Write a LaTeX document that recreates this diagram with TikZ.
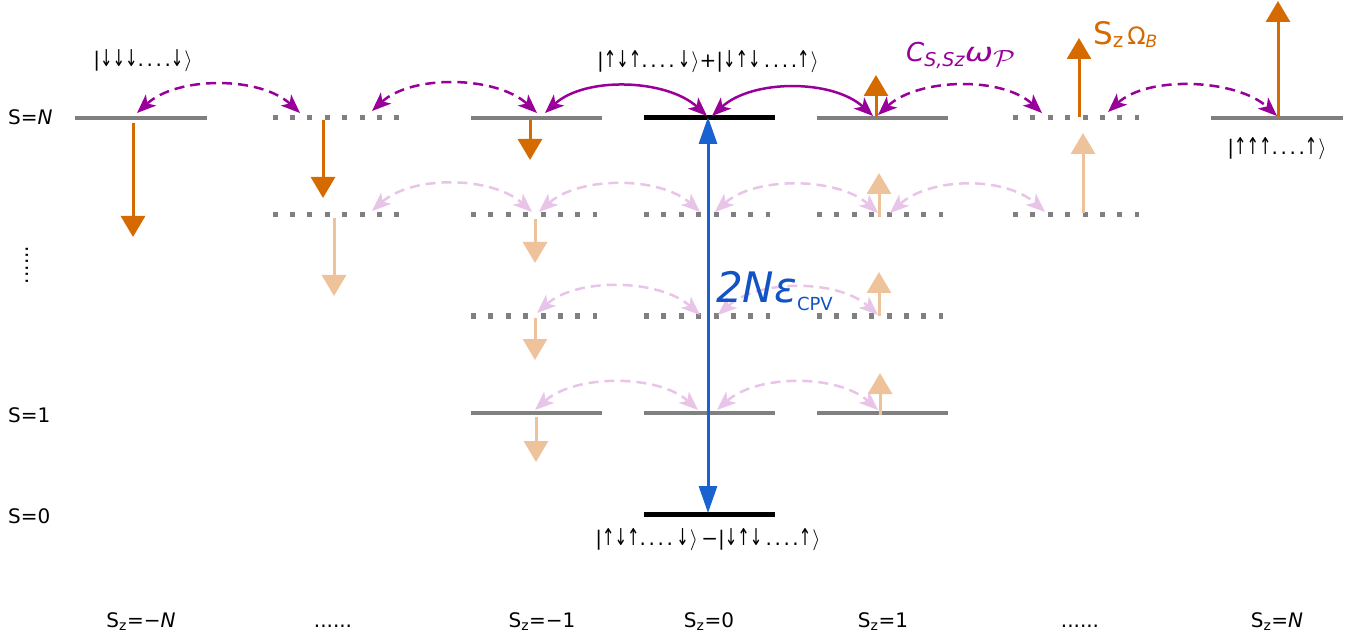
\documentclass[tikz,border=0pt]{standalone}
\usepackage{fontspec}
\usepackage{graphicx}
\setmainfont{DejaVu Sans}
\usetikzlibrary{arrows.meta}
\definecolor{orng}{RGB}{212,106,0}
\definecolor{lorng}{RGB}{238,194,154}
\definecolor{purp}{RGB}{153,0,153}
\definecolor{lpurp}{RGB}{232,196,232}
\definecolor{blu}{RGB}{26,98,208}
\definecolor{blutxt}{RGB}{17,82,196}
\definecolor{lvgray}{RGB}{128,128,128}
\newcommand{\myup}{\resizebox*{12.5pt}{17pt}{↑}}
\newcommand{\mydn}{\resizebox*{12.5pt}{17pt}{↓}}
\newcommand{\dts}{.\kern2.6pt.\kern2.6pt.\kern2.6pt.}
\newcommand{\kbar}{|}
\newcommand{\kend}{\kern1pt\resizebox*{!}{21pt}{$\rangle$}}
\tikzset{
 lev/.style={draw=lvgray, line width=4.5pt},
 levdot/.style={draw=lvgray, line width=5pt, dash pattern=on 5pt off 12.4pt},
 levblk/.style={draw=black, line width=5pt},
 spin/.style={draw=orng, line width=3pt, -{Triangle[width=24pt,length=21pt]}},
 lspin/.style={draw=lorng, line width=3pt, -{Triangle[width=24pt,length=21pt]}},
 coup/.style={draw=purp, line width=2.5pt, {Stealth[width=15pt,length=19pt,inset=5pt]}-{Stealth[width=15pt,length=19pt,inset=5pt]}},
 coupd/.style={coup, dash pattern=on 10pt off 6pt},
 lcoup/.style={coupd, draw=lpurp},
 gaparr/.style={draw=blu, line width=3pt, {Triangle[width=18pt,length=27pt]}-{Triangle[width=18pt,length=27pt]}},
 lab/.style={font=\fontsize{20}{24}\selectfont, inner sep=0pt},
 ket/.style={font=\fontsize{20}{23}\selectfont, inner sep=0pt},
}
\begin{document}
\begin{tikzpicture}[x=1pt,y=-1pt]
\useasboundingbox (0,0) rectangle (1369,639);
% ---- levels
% S = N
\draw[lev] (75,118) -- (207,118);
\draw[levdot] (272.5,118) -- (398.5,118);
\draw[lev] (471,118) -- (602,118);
\draw[levblk] (644,118) -- (775,118);
\draw[lev] (817,118) -- (948,118);
\draw[levdot] (1013,118) -- (1139,118);
\draw[lev] (1211,118) -- (1343,118);
% second row
\draw[levdot] (272.5,215) -- (398.5,215);
\draw[levdot] (471,215) -- (597,215);
\draw[levdot] (644,215) -- (770,215);
\draw[levdot] (817,215) -- (943,215);
\draw[levdot] (1013,215) -- (1139,215);
% third row
\draw[levdot] (471,316) -- (597,316);
\draw[levdot] (644,316) -- (770,316);
\draw[levdot] (817,316) -- (943,316);
% S = 1
\draw[lev] (471,413) -- (602,413);
\draw[lev] (644,413) -- (775,413);
\draw[lev] (817,413) -- (948,413);
% S = 0
\draw[levblk] (644,514) -- (775,514);

% ---- coordinates
\coordinate (t1a) at (137,113); \coordinate (t1b) at (300,113);
\coordinate (t2a) at (372,111); \coordinate (t2b) at (537,113);
\coordinate (t3a) at (545,113); \coordinate (t3b) at (707,116);
\coordinate (t4a) at (712,116); \coordinate (t4b) at (873,116);
\coordinate (t5a) at (878,115); \coordinate (t5b) at (1042,113);
\coordinate (t6a) at (1108,112); \coordinate (t6b) at (1277,116);
\coordinate (m1a) at (372,211); \coordinate (m1b) at (532,212);
\coordinate (m2a) at (539,212); \coordinate (m2b) at (700,212);
\coordinate (m3a) at (715,212); \coordinate (m3b) at (878,213);
\coordinate (m4a) at (890,213); \coordinate (m4b) at (1045,212);
\coordinate (n1a) at (537,313); \coordinate (n1b) at (700,315);
\coordinate (n2a) at (718,315); \coordinate (n2b) at (878,315);
\coordinate (o1a) at (535,410); \coordinate (o1b) at (698,410);
\coordinate (o2a) at (717,410); \coordinate (o2b) at (878,410);
\coordinate (sp1a) at (133,123); \coordinate (sp1b) at (133,237);
\coordinate (sp2a) at (323,120); \coordinate (sp2b) at (323,198);
\coordinate (sp3a) at (530,120); \coordinate (sp3b) at (530,160);
\coordinate (sp5a) at (876,118); \coordinate (sp5b) at (876,75);
\coordinate (sp6a) at (1079,117); \coordinate (sp6b) at (1079,38);
\coordinate (sp7a) at (1278,118); \coordinate (sp7b) at (1278,1);
\coordinate (lp1a) at (334,218); \coordinate (lp1b) at (334,296);
\coordinate (lp2a) at (535,219); \coordinate (lp2b) at (535,263);
\coordinate (lp3a) at (535,318); \coordinate (lp3b) at (535,360);
\coordinate (lp4a) at (536,417); \coordinate (lp4b) at (536,462);
\coordinate (lp5a) at (879,217); \coordinate (lp5b) at (879,173);
\coordinate (lp6a) at (879,316); \coordinate (lp6b) at (879,272);
\coordinate (lp7a) at (880,415); \coordinate (lp7b) at (880,373);
\coordinate (lp8a) at (1083,213); \coordinate (lp8b) at (1083,133);
\coordinate (gtop) at (708,117); \coordinate (gbot) at (708,513);

% ---- faint couplings
\foreach \p in {m1,m2,m3,m4,n1,n2,o1,o2}
  \draw[lcoup] (\p a) .. controls +(40,-36) and +(-40,-36) .. (\p b);
% ---- faint spin arrows
\foreach \p in {lp1,lp2,lp3,lp4,lp5,lp6,lp7,lp8}
  \draw[lspin] (\p a) -- (\p b);
% ---- top couplings
\draw[coupd] (t1a) .. controls +(40,-37) and +(-40,-37) .. (t1b);
\draw[coupd] (t2a) .. controls +(40,-37) and +(-40,-37) .. (t2b);
\draw[coup]  (t3a) .. controls +(40,-37) and +(-40,-37) .. (t3b);
\draw[coup]  (t4a) .. controls +(40,-37) and +(-40,-37) .. (t4b);
\draw[coupd] (t5a) .. controls +(40,-37) and +(-40,-37) .. (t5b);
\draw[coupd] (t6a) .. controls +(40,-37) and +(-40,-37) .. (t6b);
% ---- spin arrows
\foreach \p in {sp1,sp2,sp3,sp5,sp6,sp7}
  \draw[spin] (\p a) -- (\p b);
% ---- gap arrow
\draw[gaparr] (gbot) -- (gtop);

% ---- texts
\node[lab, anchor=base west] (sN) at (8,125) {S=\textit{N}};
\node[lab, anchor=base west] (s1) at (8,422) {S=1};
\node[lab, anchor=base west] (s0) at (8,523) {S=0};
\node[lab, rotate=90] (vd) at (27,265) {......};

\node[ket, anchor=base] (kdown) at (143,67) {\kbar\mydn\mydn\mydn\dts\mydn\kend};
\node[ket, anchor=base] (kplus) at (708,68) {\kbar\myup\mydn\myup\dts\,\mydn\kend+\kbar\mydn\myup\mydn\,\dts\myup\kend};
\node[ket, anchor=base] (kup) at (1277,155) {\kbar\myup\myup\myup\dts\myup\kend};
\node[ket, anchor=base] (kminus) at (708,545) {\kbar\myup\mydn\myup\dts\,\mydn\kend\,−\kbar\mydn\myup\mydn\,\dts\myup\kend};

\node[anchor=base west, text=purp, inner sep=0pt] (clab) at (906,62)
  {\fontsize{26}{30}\selectfont\textit{C}\raisebox{-5pt}{\fontsize{19}{21}\selectfont\textit{S,Sz}}\scalebox{1.3}[1]{\fontsize{26}{30}\selectfont\textit{ω}}\raisebox{-5pt}{\resizebox{22pt}{16pt}{$\mathcal{P}$}}};
\node[anchor=base west, text=orng, inner sep=0pt] (olab) at (1093,45)
  {\fontsize{31}{34}\selectfont S\raisebox{-3pt}{\fontsize{20}{24}\selectfont z}\kern4pt{\fontsize{24}{26}\selectfont Ω}\raisebox{-3pt}{\fontsize{17}{18}\selectfont\textit{B}}};
\node[anchor=base west, text=blutxt, inner sep=0pt] (glab) at (716,302)
  {\fontsize{42}{46}\selectfont\textit{2Nε}\raisebox{-8pt}{\fontsize{18}{20}\selectfont CPV}};

\node[lab, anchor=base] (z1) at (141,627) {S\textsubscript{z}=−\textit{N}};
\node[lab, anchor=base] (z2) at (333,627) {......};
\node[lab, anchor=base] (z3) at (542,627) {S\textsubscript{z}=−1};
\node[lab, anchor=base] (z4) at (709,627) {S\textsubscript{z}=0};
\node[lab, anchor=base] (z5) at (883,627) {S\textsubscript{z}=1};
\node[lab, anchor=base] (z6) at (1080,627) {......};
\node[lab, anchor=base] (z7) at (1277,627) {S\textsubscript{z}=\textit{N}};
\end{tikzpicture}
\end{document}
